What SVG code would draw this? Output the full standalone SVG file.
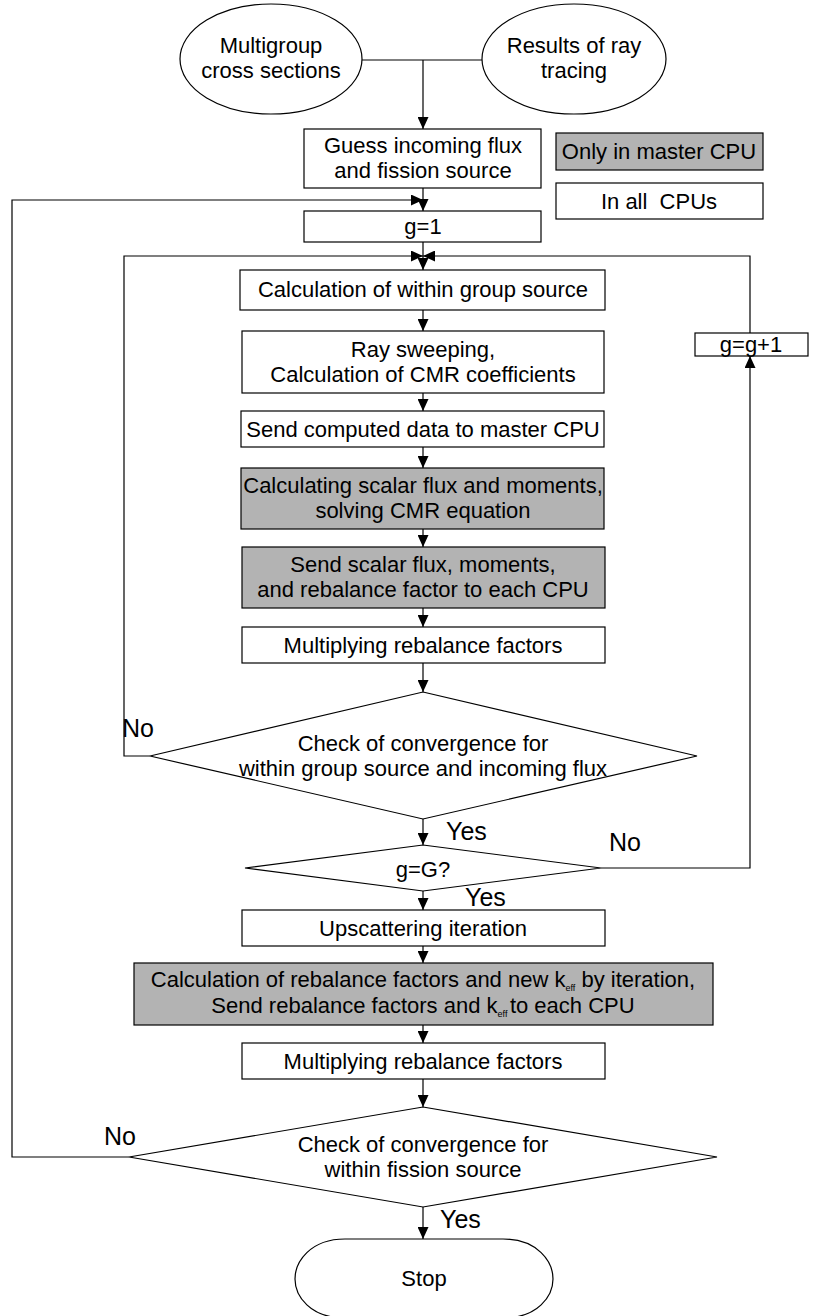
<svg xmlns="http://www.w3.org/2000/svg" width="824" height="1316" viewBox="0 0 824 1316">
<style>
.b{fill:#fff;stroke:#000;stroke-width:1.2}
.g{fill:#b3b3b3;stroke:#000;stroke-width:1.2}
.t{font-family:"Liberation Sans",Arial,sans-serif;font-size:22px;fill:#000;text-anchor:middle}
.l{font-family:"Liberation Sans",Arial,sans-serif;font-size:25px;fill:#000}
.c{fill:none;stroke:#000;stroke-width:1.2}
.s{font-size:9px}
.pre{white-space:pre}
</style>
<defs>
<marker id="ah" markerUnits="userSpaceOnUse" markerWidth="13" markerHeight="11" refX="12" refY="5.5" orient="auto">
<path d="M0,0 L12,5.5 L0,11 Z" fill="#000"/>
</marker>
</defs>
<rect width="824" height="1316" fill="#fff"/>
<g id="connectors">
<path class="c" d="M362,60 H482"/>
<path class="c" d="M423,60 V129" marker-end="url(#ah)"/>
<path class="c" d="M423,188 V211" marker-end="url(#ah)"/>
<path class="c" d="M129,1157 H12 V200 H423" marker-end="url(#ah)"/>
<path class="c" d="M423,242 V270" marker-end="url(#ah)"/>
<path class="c" d="M150,756 H124 V256 H423" marker-end="url(#ah)"/>
<path class="c" d="M750,333 V256 H423" marker-end="url(#ah)"/>
<path class="c" d="M601,868 H750 V356" marker-end="url(#ah)"/>
<path class="c" d="M423,310 V331" marker-end="url(#ah)"/>
<path class="c" d="M423,393 V411" marker-end="url(#ah)"/>
<path class="c" d="M423,447 V468" marker-end="url(#ah)"/>
<path class="c" d="M423,529 V547" marker-end="url(#ah)"/>
<path class="c" d="M423,608 V627" marker-end="url(#ah)"/>
<path class="c" d="M423,663 V692" marker-end="url(#ah)"/>
<path class="c" d="M423,819 V845" marker-end="url(#ah)"/>
<path class="c" d="M423,891 V910" marker-end="url(#ah)"/>
<path class="c" d="M423,946 V963" marker-end="url(#ah)"/>
<path class="c" d="M423,1025 V1043" marker-end="url(#ah)"/>
<path class="c" d="M423,1079 V1107" marker-end="url(#ah)"/>
<path class="c" d="M423,1207 V1239" marker-end="url(#ah)"/>
<text class="l" x="122" y="737">No</text>
<text class="l" x="446" y="840">Yes</text>
<text class="l" x="609" y="851">No</text>
<text class="l" x="465" y="906">Yes</text>
<text class="l" x="104" y="1145">No</text>
<text class="l" x="440" y="1228">Yes</text>
</g>
<g id="n-multigroup">
<ellipse class="b" cx="271" cy="59" rx="91" ry="55"/>
<text class="t" x="271" y="53">Multigroup</text>
<text class="t" x="271" y="78">cross sections</text>
</g>
<g id="n-raytracing">
<ellipse class="b" cx="574" cy="59" rx="92" ry="55"/>
<text class="t" x="574" y="53">Results of ray</text>
<text class="t" x="574" y="78">tracing</text>
</g>
<g id="n-guess">
<rect class="b" x="304" y="129" width="237" height="59"/>
<text class="t" x="423" y="153">Guess incoming flux</text>
<text class="t" x="423" y="178">and fission source</text>
</g>
<g id="legend-master">
<rect class="g" x="556" y="133" width="207" height="37"/>
<text class="t" x="659" y="159">Only in master CPU</text>
</g>
<g id="legend-all">
<rect class="b" x="556" y="183" width="207" height="36"/>
<text class="t pre" x="659" y="209">In all  CPUs</text>
</g>
<g id="n-g1">
<rect class="b" x="304" y="211" width="237" height="31"/>
<text class="t" x="423" y="234">g=1</text>
</g>
<g id="n-ggplus1">
<rect class="b" x="695" y="333" width="113" height="23"/>
<text class="t" x="751" y="352">g=g+1</text>
</g>
<g id="n-within">
<rect class="b" x="240" y="270" width="365" height="40"/>
<text class="t" x="423" y="297">Calculation of within group source</text>
</g>
<g id="n-ray">
<rect class="b" x="242" y="331" width="362" height="62"/>
<text class="t" x="423" y="357">Ray sweeping,</text>
<text class="t" x="423" y="382">Calculation of CMR coefficients</text>
</g>
<g id="n-send1">
<rect class="b" x="241" y="411" width="363" height="36"/>
<text class="t" x="423" y="437">Send computed data to master CPU</text>
</g>
<g id="n-scalar">
<rect class="g" x="241" y="468" width="363" height="61"/>
<text class="t" x="423" y="493">Calculating scalar flux and moments,</text>
<text class="t" x="423" y="518">solving CMR equation</text>
</g>
<g id="n-send2">
<rect class="g" x="242" y="547" width="363" height="61"/>
<text class="t" x="423" y="572">Send scalar flux, moments,</text>
<text class="t" x="423" y="597">and rebalance factor to each CPU</text>
</g>
<g id="n-mult1">
<rect class="b" x="242" y="627" width="363" height="36"/>
<text class="t" x="423" y="653">Multiplying rebalance factors</text>
</g>
<g id="n-conv1">
<polygon class="b" points="423,692 697,756 423,819 150,756"/>
<text class="t" x="423" y="751">Check of convergence for</text>
<text class="t" x="423" y="776">within group source and incoming flux</text>
</g>
<g id="n-gG">
<polygon class="b" points="423,845 601,868 423,891 245,868"/>
<text class="t" x="423" y="877">g=G?</text>
</g>
<g id="n-upscat">
<rect class="b" x="242" y="910" width="363" height="36"/>
<text class="t" x="423" y="936">Upscattering iteration</text>
</g>
<g id="n-rebal">
<rect class="g" x="134" y="963" width="579" height="62"/>
<text class="t" x="423" y="987">Calculation of rebalance factors and new k<tspan class="s" dy="4">eff</tspan><tspan dy="-4"> by iteration,</tspan></text>
<text class="t" x="423" y="1013">Send rebalance factors and k<tspan class="s" dy="4">eff </tspan><tspan dy="-4">to each CPU</tspan></text>
</g>
<g id="n-mult2">
<rect class="b" x="242" y="1043" width="363" height="36"/>
<text class="t" x="423" y="1069">Multiplying rebalance factors</text>
</g>
<g id="n-conv2">
<polygon class="b" points="423,1107 717,1157 423,1207 129,1157"/>
<text class="t" x="423" y="1152">Check of convergence for</text>
<text class="t" x="423" y="1177">within fission source</text>
</g>
<g id="n-stop">
<path class="b" d="M345,1239 H503 C538,1239 553,1262 553,1279 C553,1296 538,1318 503,1318 H345 C310,1318 295,1296 295,1279 C295,1262 310,1239 345,1239 Z"/>
<text class="t" x="424" y="1286">Stop</text>
</g>
</svg>
